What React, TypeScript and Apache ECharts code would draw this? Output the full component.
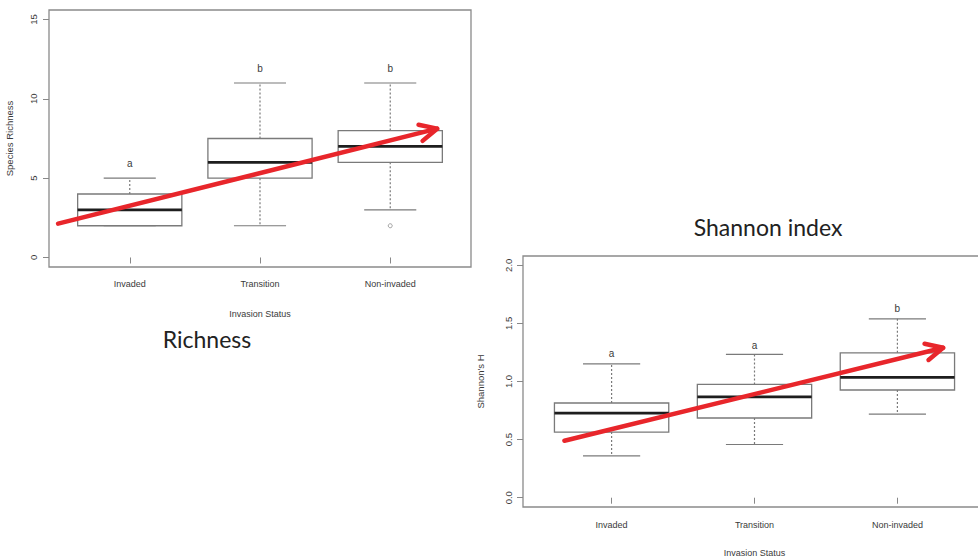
import React, { useEffect, useRef } from "react";
import * as echarts from "echarts";

// ---- data ----
const categories = ["Invaded", "Transition", "Non-invaded"];
const categoryPositions = [1, 2, 3];

// [min whisker, Q1, median, Q3, max whisker]
const richnessBoxes = [
  [2, 2, 3, 4, 5],
  [2, 5, 6, 7.5, 11],
  [3, 6, 7, 8, 11],
];
const richnessOutliers = [[3, 2]];
const richnessLetters = ["a", "b", "b"];
const richnessLetterY = [5.9, 11.9, 11.9];
const richnessTicks = [0, 5, 10, 15];
const richnessTrend = [0.45, 2.13, 3.36, 8.12];

const shannonBoxes = [
  [0.36, 0.565, 0.728, 0.815, 1.152],
  [0.458, 0.686, 0.868, 0.975, 1.233],
  [0.719, 0.927, 1.036, 1.247, 1.539],
];
const shannonLetters = ["a", "a", "b"];
const shannonLetterY = [1.24, 1.31, 1.63];
const shannonTicks = [0, 0.5, 1.0, 1.5, 2.0];
const shannonTrend = [0.67, 0.49, 3.32, 1.29];

const SMALL_FONT = "Liberation Sans";
const TEXT_COLOR = "#3a3a3a";
const BOX_COLOR = "#7a7a7a";
const RED = "#e8262b";

const renderBox = (params: any, api: any) => {
  const x = api.value(0);
  const c = (v: number) => api.coord([x, v]);
  const pMin = c(api.value(1));
  const pQ1 = c(api.value(2));
  const pMd = c(api.value(3));
  const pQ3 = c(api.value(4));
  const pMax = c(api.value(5));
  const half = api.size([0.4, 0])[0];
  const cap = api.size([0.2, 0])[0];
  const cx = pMd[0];
  const thin = { stroke: BOX_COLOR, lineWidth: 1.2 };
  return {
    type: "group",
    children: [
      { type: "line", shape: { x1: cx, y1: pQ3[1], x2: cx, y2: pMax[1] }, style: { ...thin, lineDash: [2, 2] } },
      { type: "line", shape: { x1: cx, y1: pQ1[1], x2: cx, y2: pMin[1] }, style: { ...thin, lineDash: [2, 2] } },
      { type: "line", shape: { x1: cx - cap, y1: pMax[1], x2: cx + cap, y2: pMax[1] }, style: thin },
      { type: "line", shape: { x1: cx - cap, y1: pMin[1], x2: cx + cap, y2: pMin[1] }, style: thin },
      {
        type: "rect",
        shape: { x: cx - half, y: pQ3[1], width: 2 * half, height: pQ1[1] - pQ3[1] },
        style: { fill: "none", stroke: BOX_COLOR, lineWidth: 1.3 },
      },
      {
        type: "line",
        shape: { x1: cx - half, y1: pMd[1], x2: cx + half, y2: pMd[1] },
        style: { stroke: "#1e1e1e", lineWidth: 2.7 },
      },
    ],
  };
};

const renderArrow = (params: any, api: any) => {
  const p1 = api.coord([api.value(0), api.value(1)]);
  const p2 = api.coord([api.value(2), api.value(3)]);
  const ang = Math.atan2(p1[1] - p2[1], p1[0] - p2[0]);
  const L = 19;
  const a = (26 * Math.PI) / 180;
  const b1 = [p2[0] + L * Math.cos(ang + a), p2[1] + L * Math.sin(ang + a)];
  const b2 = [p2[0] + L * Math.cos(ang - a), p2[1] + L * Math.sin(ang - a)];
  const st = { stroke: RED, lineWidth: 4.5, lineCap: "round", lineJoin: "round", fill: "none" };
  return {
    type: "group",
    children: [
      { type: "line", shape: { x1: p1[0], y1: p1[1], x2: p2[0], y2: p2[1] }, style: st },
      { type: "polyline", shape: { points: [b1, p2, b2] }, style: st },
    ],
  };
};

const makeLetterRenderer = (letters: string[]) => (params: any, api: any) => {
  const p = api.coord([api.value(0), api.value(1)]);
  return {
    type: "text",
    x: p[0],
    y: p[1],
    style: {
      text: letters[params.dataIndex],
      fill: TEXT_COLOR,
      font: `10px "${SMALL_FONT}"`,
      align: "center",
      verticalAlign: "middle",
    },
  };
};

const xAxisBase = (gridIndex: number, nameGap: number, margin: number) => ({
  type: "value",
  gridIndex,
  min: 0.38,
  max: 3.62,
  name: "Invasion Status",
  nameLocation: "middle",
  nameGap,
  nameTextStyle: { color: TEXT_COLOR, fontSize: 9, fontFamily: SMALL_FONT },
  axisLine: { show: false },
  splitLine: { show: false },
  axisTick: { show: true, length: 6, customValues: categoryPositions, lineStyle: { color: "#888" } },
  axisLabel: {
    customValues: categoryPositions,
    margin,
    color: TEXT_COLOR,
    fontSize: 9,
    fontFamily: SMALL_FONT,
    formatter: (v: number) => categories[Math.round(v) - 1] ?? "",
  },
});

export default function App() {
  const ref = useRef<HTMLDivElement>(null);
  useEffect(() => {
    if (!ref.current) return;
    const chart = echarts.init(ref.current, undefined, { renderer: "svg" });
    const option: any = {
      animation: false,
      backgroundColor: "#fff",
      textStyle: { fontFamily: SMALL_FONT },
      grid: [
        { left: 49, top: 10, width: 422, height: 257, show: true, borderColor: "#8a8a8a", borderWidth: 1.3, backgroundColor: "transparent" },
        { left: 523, top: 256, width: 463, height: 256, show: true, borderColor: "#8a8a8a", borderWidth: 1.3, backgroundColor: "transparent" },
      ],
      xAxis: [xAxisBase(0, 42, 12), xAxisBase(1, 41, 13)],
      yAxis: [
        {
          type: "value",
          gridIndex: 0,
          min: -0.6,
          max: 15.6,
          name: "Species Richness",
          nameLocation: "middle",
          nameGap: 35,
          nameRotate: 90,
          nameTextStyle: { color: TEXT_COLOR, fontSize: 9.5, fontFamily: SMALL_FONT },
          axisLine: { show: false },
          splitLine: { show: false },
          axisTick: { show: true, length: 6, customValues: richnessTicks, lineStyle: { color: "#888" } },
          axisLabel: { customValues: richnessTicks, rotate: 90, margin: 11, color: TEXT_COLOR, fontSize: 9.5, fontFamily: SMALL_FONT },
        },
        {
          type: "value",
          gridIndex: 1,
          min: -0.08,
          max: 2.08,
          name: "Shannon's H",
          nameLocation: "middle",
          nameGap: 38,
          nameRotate: 90,
          nameTextStyle: { color: TEXT_COLOR, fontSize: 9.5, fontFamily: SMALL_FONT },
          axisLine: { show: false },
          splitLine: { show: false },
          axisTick: { show: true, length: 6, customValues: shannonTicks, lineStyle: { color: "#888" } },
          axisLabel: {
            customValues: shannonTicks,
            rotate: 90,
            margin: 10,
            color: TEXT_COLOR,
            fontSize: 9.5,
            fontFamily: SMALL_FONT,
            formatter: (v: number) => v.toFixed(1),
          },
        },
      ],
      graphic: [
        {
          type: "text",
          x: 207,
          y: 339,
          style: { text: "Richness", font: '23px Lato', fill: "#222", align: "center", verticalAlign: "middle" },
        },
        {
          type: "text",
          x: 768,
          y: 227,
          style: { text: "Shannon index", font: '23px Lato', fill: "#222", align: "center", verticalAlign: "middle" },
        },
      ],
      series: [
        {
          type: "custom",
          xAxisIndex: 0,
          yAxisIndex: 0,
          renderItem: renderBox,
          data: richnessBoxes.map((b, i) => [categoryPositions[i], ...b]),
          z: 2,
        },
        {
          type: "scatter",
          xAxisIndex: 0,
          yAxisIndex: 0,
          symbol: "circle",
          symbolSize: 4,
          itemStyle: { color: "#fff", borderColor: "#888", borderWidth: 1 },
          data: richnessOutliers,
          z: 2,
        },
        {
          type: "custom",
          xAxisIndex: 0,
          yAxisIndex: 0,
          renderItem: makeLetterRenderer(richnessLetters),
          data: richnessLetterY.map((y, i) => [categoryPositions[i], y]),
          z: 3,
        },
        {
          type: "custom",
          xAxisIndex: 0,
          yAxisIndex: 0,
          renderItem: renderArrow,
          data: [richnessTrend],
          z: 5,
        },
        {
          type: "custom",
          xAxisIndex: 1,
          yAxisIndex: 1,
          renderItem: renderBox,
          data: shannonBoxes.map((b, i) => [categoryPositions[i], ...b]),
          z: 2,
        },
        {
          type: "custom",
          xAxisIndex: 1,
          yAxisIndex: 1,
          renderItem: makeLetterRenderer(shannonLetters),
          data: shannonLetterY.map((y, i) => [categoryPositions[i], y]),
          z: 3,
        },
        {
          type: "custom",
          xAxisIndex: 1,
          yAxisIndex: 1,
          renderItem: renderArrow,
          data: [shannonTrend],
          z: 5,
        },
      ],
    };
    chart.setOption(option);
    return () => chart.dispose();
  }, []);
  return (
    <div
      style={{ position: "absolute", left: 0, top: 0, width: 978, height: 558, overflow: "hidden", background: "#fff" }}
    >
      <div ref={ref} style={{ width: 1000, height: 558 }} />
    </div>
  );
}
